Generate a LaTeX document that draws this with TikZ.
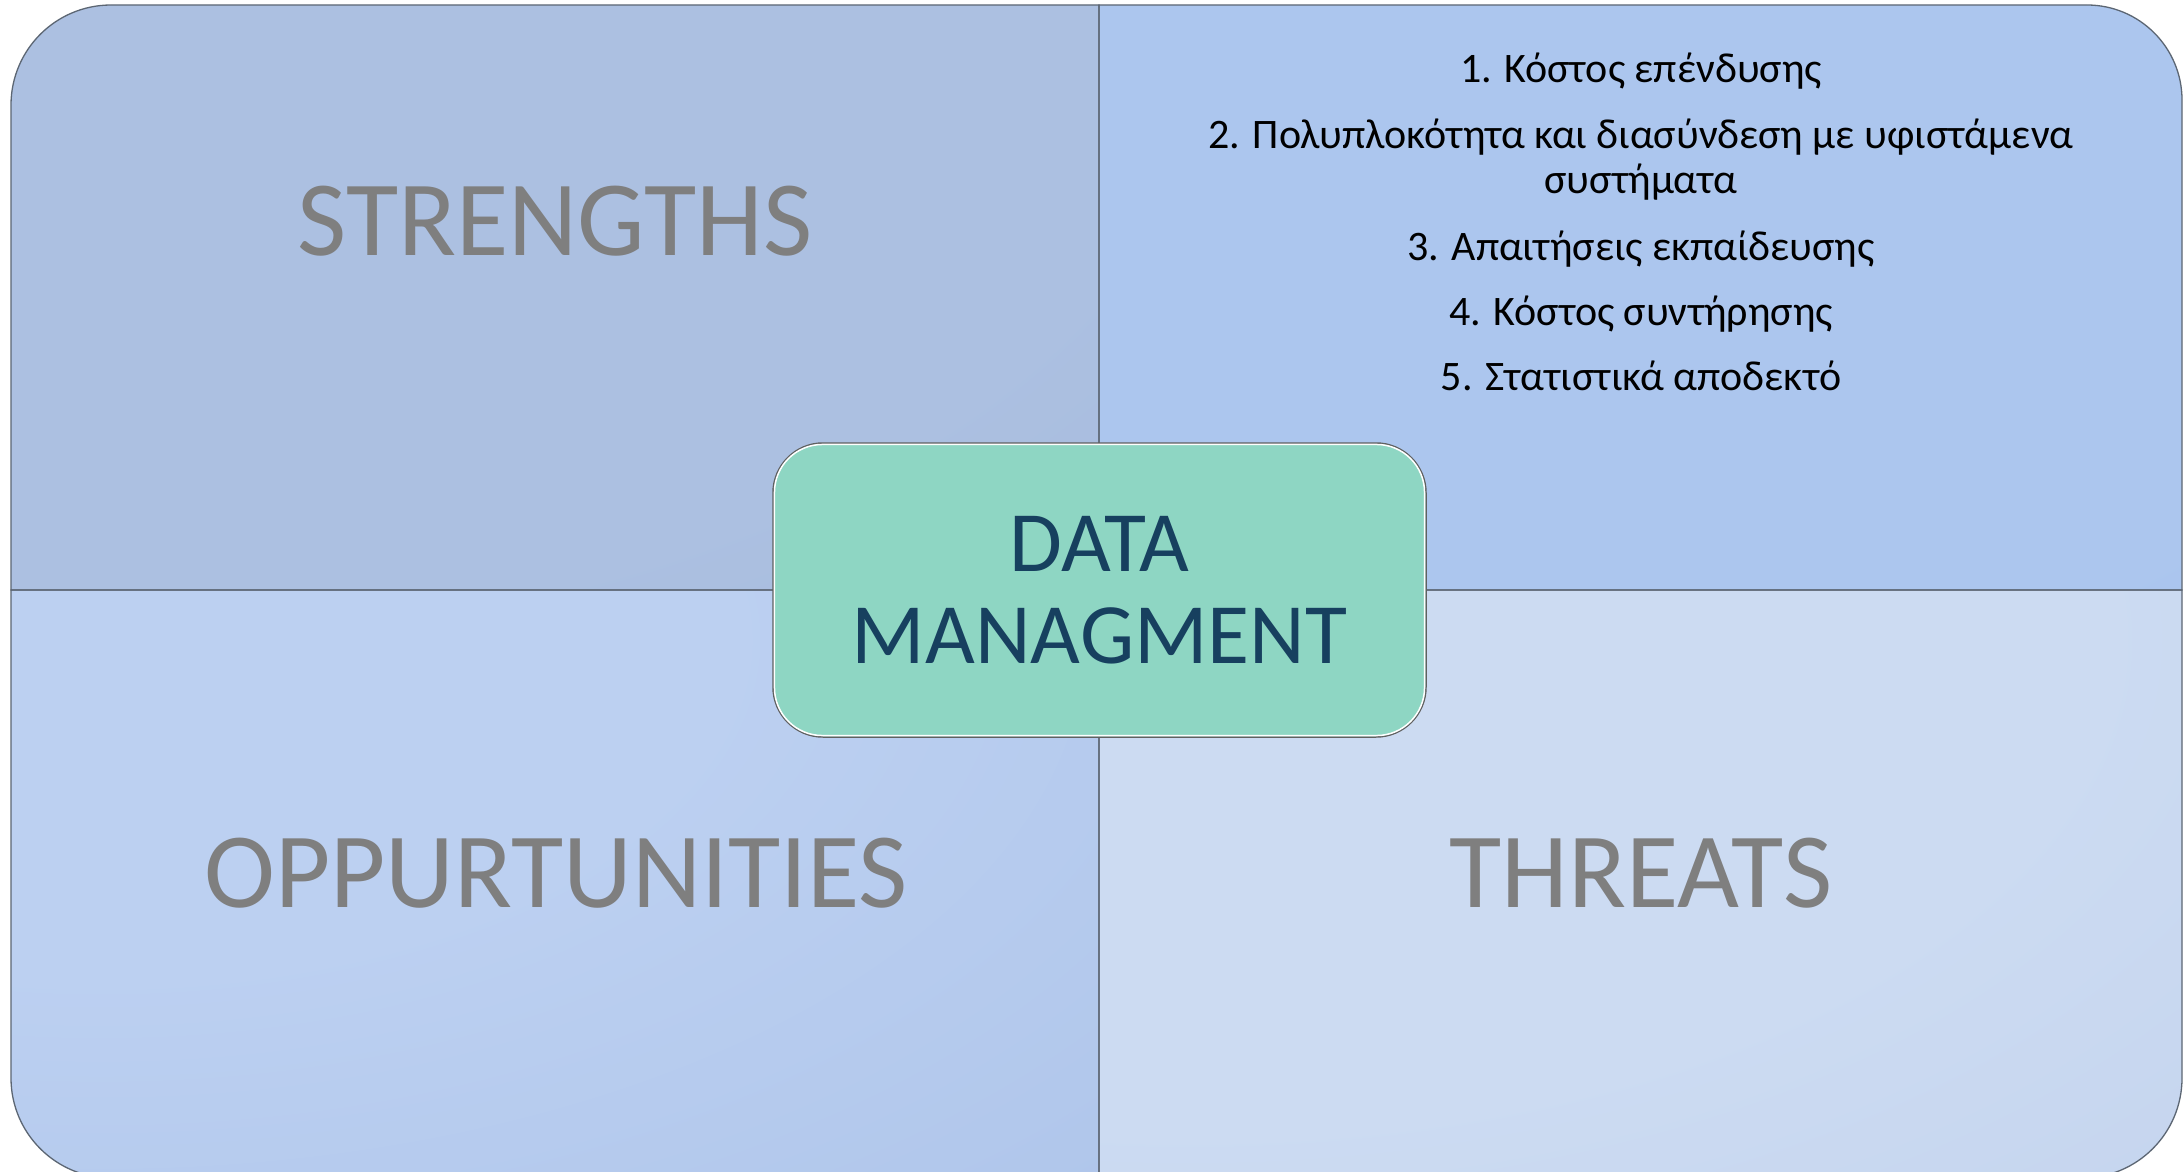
\documentclass[tikz,border=0pt]{standalone}
\usepackage{fontspec}
\setmainfont{Carlito}
\definecolor{linec}{HTML}{5C6673}
\definecolor{tlA}{HTML}{ACC0E1}\definecolor{tlB}{HTML}{93AAD1}
\definecolor{trA}{HTML}{ACC6EE}\definecolor{trB}{HTML}{8DABDF}
\definecolor{blA}{HTML}{BCD0F1}\definecolor{blB}{HTML}{9BB5E0}
\definecolor{brA}{HTML}{CCDBF2}\definecolor{brB}{HTML}{B4C5E5}
\definecolor{boxfill}{HTML}{8ED6C3}
\definecolor{boxtext}{HTML}{17405F}
\definecolor{labgray}{HTML}{7F7F7F}
\pgfdeclareradialshading{shTL}{\pgfpointorigin}{color(0bp)=(tlA); color(19bp)=(tlA); color(50bp)=(tlB)}
\pgfdeclareradialshading{shTR}{\pgfpointorigin}{color(0bp)=(trA); color(24bp)=(trA); color(50bp)=(trB)}
\pgfdeclareradialshading{shBL}{\pgfpointorigin}{color(0bp)=(blA); color(11bp)=(blA); color(50bp)=(blB)}
\pgfdeclareradialshading{shBR}{\pgfpointorigin}{color(0bp)=(brA); color(16bp)=(brA); color(50bp)=(brB)}
\tikzset{
  quad/.style={draw=linec, line width=1.3pt},
  biglabel/.style={anchor=base, text=labgray, font=\fontsize{107}{112}\selectfont, inner sep=0pt},
  listitem/.style={anchor=base, text=black, font=\fontsize{42}{45}\selectfont, inner sep=0pt, align=center},
  centerbox/.style={draw=gray!75!black, line width=1.5pt, fill=boxfill, rounded corners=50pt,
    minimum width=653pt, minimum height=294pt, inner sep=0pt, text=boxtext, align=center,
    font=\fontsize{86}{92}\selectfont}
}
\begin{document}
\begin{tikzpicture}[x=1pt,y=-1pt]
\useasboundingbox (0,0) rectangle (2184,1172);
\fill[white] (0,0) rectangle (2184,1172);
\begin{scope}
\clip (0,0) rectangle (2184,1172);
% quadrant outlines
\path[save path=\pTL] (11,590) -- (11,105) .. controls (11,49.8) and (55.8,5) .. (111,5) -- (1099,5) -- (1099,590) -- cycle;
\path[save path=\pTR] (1099,590) -- (1099,5) -- (2087,5) .. controls (2139.4,5) and (2182,47.6) .. (2182,100) -- (2182,590) -- cycle;
\path[save path=\pBL] (11,590) -- (1099,590) -- (1099,1178) -- (111,1178) .. controls (55.8,1178) and (11,1133.2) .. (11,1078) -- cycle;
\path[save path=\pBR] (1099,590) -- (2182,590) -- (2182,1078) .. controls (2182,1133.2) and (2137.2,1178) .. (2082,1178) -- (1099,1178) -- cycle;
% shaded fills
\begin{scope}\clip[use path=\pTL];
\shade[shading=shTL] (-1304,-700) rectangle (1506,810);\end{scope}
\begin{scope}\clip[use path=\pTR];
\shade[shading=shTR] (-216,-700) rectangle (2594,810);\end{scope}
\begin{scope}\clip[use path=\pBL];
\shade[shading=shBL] (-1304,-115) rectangle (1506,1395);\end{scope}
\begin{scope}\clip[use path=\pBR];
\shade[shading=shBR] (-216,-115) rectangle (2594,1395);\end{scope}
% outlines
\draw[quad, use path=\pTL];
\draw[quad, use path=\pTR];
\draw[quad, use path=\pBL];
\draw[quad, use path=\pBR];
\end{scope}

\node[biglabel] (strengths) at (555,255) {STRENGTHS};
\node[biglabel] (opp) at (556,907) {OPPURTUNITIES};
\node[biglabel] (threats) at (1641,907) {THREATS};

\node[listitem] (l1) at (1641,82) {1. Κόστος επένδυσης};
\node[listitem] (l2) at (1641,193) {2. Πολυπλοκότητα και διασύνδεση με υφιστάμενα\\συστήματα};
\node[listitem] (l3) at (1641,260) {3. Απαιτήσεις εκπαίδευσης};
\node[listitem] (l4) at (1641,325) {4. Κόστος συντήρησης};
\node[listitem] (l5) at (1641,390) {5. Στατιστικά αποδεκτό};

\node[centerbox] (dm) at (1099.5,590) {DATA\\MANAGMENT};
\draw[white, line width=1.5pt, rounded corners=48pt]
  ([shift={(2.2pt,-2.2pt)}]dm.north west) rectangle ([shift={(-2.2pt,2.2pt)}]dm.south east);
\end{tikzpicture}
\end{document}
